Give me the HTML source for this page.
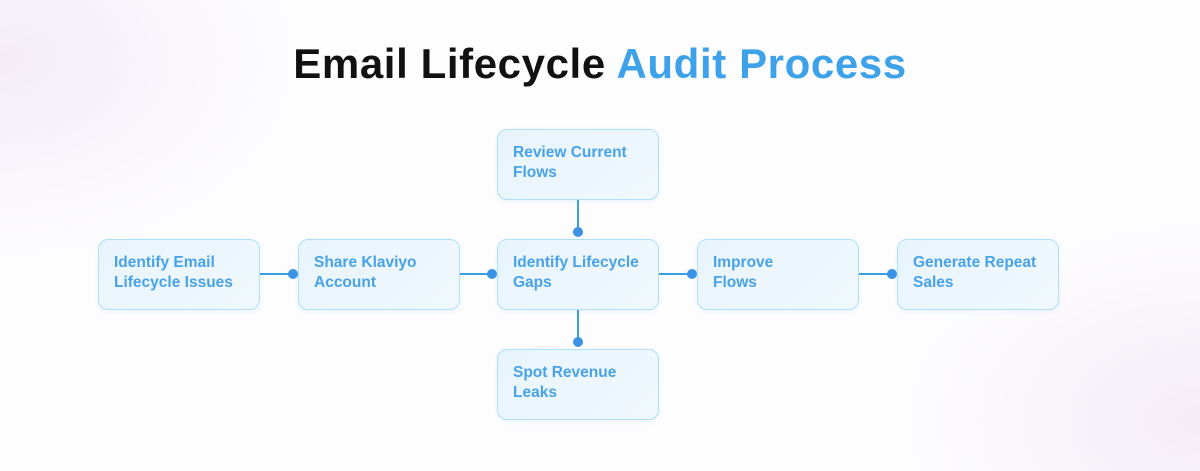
<!DOCTYPE html>
<html><head><style>
body{margin:0;width:1200px;height:471px;overflow:hidden;font-family:"Liberation Sans",sans-serif;
background:radial-gradient(ellipse 300px 200px at 0px 60px,#f3ecf8,transparent),radial-gradient(ellipse 300px 200px at 1200px 420px,#f4ecf6,transparent),#fdfdfe;position:relative}
h1{position:absolute;top:40px;left:0;width:1200px;text-align:center;margin:0;font-size:42px;font-weight:bold;color:#111;letter-spacing:0.6px}
h1 span{color:#3ea2ea}
.b{position:absolute;width:162px;height:71px;border:1px solid #aee0f7;border-radius:10px;background:linear-gradient(135deg,#e8f4fc,#f0f8fd);box-sizing:border-box;padding:13px 0 0 15px;color:#48a2e8;font-weight:bold;font-size:15.5px;line-height:20px;box-shadow:0 2px 6px rgba(120,180,230,.12)}
.h{position:absolute;height:2px;background:#3a9fe0}
.v{position:absolute;width:2px;background:#3a9fe0}
.d{position:absolute;width:10px;height:10px;border-radius:50%;background:#3b93e6}
</style></head><body>
<h1>Email Lifecycle <span>Audit Process</span></h1>
<div class="b" style="left:98px;top:239px">Identify Email<br>Lifecycle Issues</div>
<div class="b" style="left:298px;top:239px">Share Klaviyo<br>Account</div>
<div class="b" style="left:497px;top:239px">Identify Lifecycle<br>Gaps</div>
<div class="b" style="left:697px;top:239px">Improve<br>Flows</div>
<div class="b" style="left:897px;top:239px">Generate Repeat<br>Sales</div>
<div class="b" style="left:497px;top:129px">Review Current<br>Flows</div>
<div class="b" style="left:497px;top:349px">Spot Revenue<br>Leaks</div>
<div class="h" style="left:260px;top:273px;width:33px"></div><div class="d" style="left:288px;top:269px"></div>
<div class="h" style="left:460px;top:273px;width:33px"></div><div class="d" style="left:487px;top:269px"></div>
<div class="h" style="left:659px;top:273px;width:33px"></div><div class="d" style="left:687px;top:269px"></div>
<div class="h" style="left:859px;top:273px;width:33px"></div><div class="d" style="left:887px;top:269px"></div>
<div class="v" style="left:577px;top:200px;height:32px"></div><div class="d" style="left:573px;top:227px"></div>
<div class="v" style="left:577px;top:310px;height:32px"></div><div class="d" style="left:573px;top:337px"></div>
</body></html>
